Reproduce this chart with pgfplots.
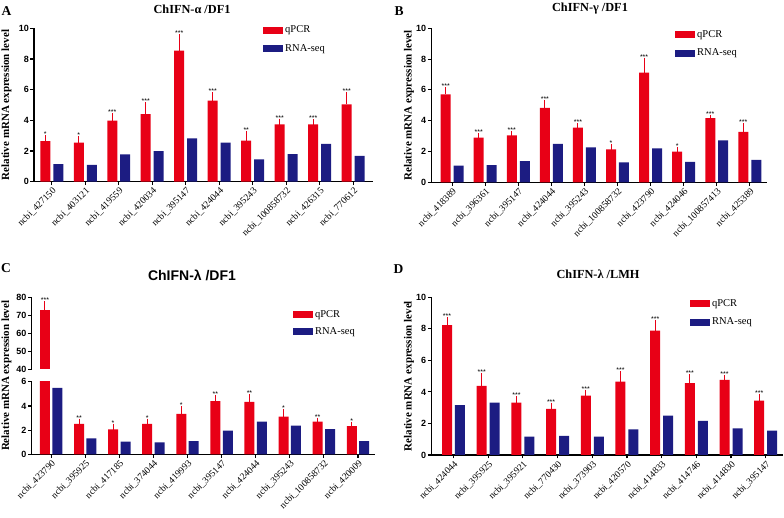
\documentclass[border=0pt]{standalone}
\usepackage{fontspec}
\setmainfont{Liberation Serif}
\newfontfamily\arial{Liberation Sans}
\usepackage{pgfplots}
\usepackage{pgfplotstable}
\pgfplotsset{compat=1.18}
\definecolor{qred}{RGB}{232,0,22}
\definecolor{qblue}{RGB}{28,28,130}

\pgfplotstableread{
x q e b s
0 2.65 0.18 1.15 *
1 2.54 0.24 1.09 *
2 3.98 0.30 1.78 ***
3 4.41 0.57 2.00 ***
4 8.54 0.87 2.83 ***
5 5.28 0.37 2.54 ***
6 2.67 0.43 1.46 **
7 3.74 0.17 1.80 ***
8 3.74 0.13 2.46 ***
9 5.04 0.61 1.68 ***
}\tabA
\pgfplotstableread{
x q e b s
0 5.71 0.29 1.08 ***
1 2.90 0.10 1.12 ***
2 3.05 0.09 1.38 ***
3 4.84 0.33 2.49 ***
4 3.55 0.11 2.27 ***
5 2.14 0.13 1.30 *
6 7.12 0.78 2.20 ***
7 1.99 0.11 1.32 *
8 4.16 0.04 2.72 ***
9 3.28 0.38 1.45 ***
}\tabB
\pgfplotstableread{
x q e b s
0 73.0 3.1 5.50 ***
1 2.51 0.19 1.32 **
2 2.07 0.22 1.05 *
3 2.51 0.19 0.99 *
4 3.34 0.38 1.08 *
5 4.41 0.22 1.96 **
6 4.33 0.39 2.70 **
7 3.11 0.37 2.37 *
8 2.70 0.08 2.09 **
9 2.34 0.11 1.08 *
}\tabC
\pgfplotstableread{
x q e b s
0 8.24 0.32 3.17 ***
1 4.38 0.62 3.32 ***
2 3.32 0.21 1.16 ***
3 2.92 0.21 1.22 ***
4 3.76 0.19 1.16 ***
5 4.65 0.47 1.63 ***
6 7.88 0.51 2.49 ***
7 4.55 0.38 2.16 ***
8 4.76 0.10 1.69 ***
9 3.44 0.26 1.54 ***
}\tabD

\pgfplotsset{
  legend image code/.code={\fill[#1] (0pt,-3.5pt) rectangle (20pt,3.5pt);},
  base/.style={
    scale only axis,
    anchor=south west,
    axis x line=bottom, axis y line=left,
    axis line style={-, line width=1.1pt, black},
    tick align=outside,
    major tick style={line width=1.1pt, black},
    major tick length=3.5pt,
    clip=true,
    /pgf/number format/assume math mode=true,
    yticklabel style={font=\arial\bfseries\fontsize{9}{9}\selectfont, inner sep=1.5pt},
    legend style={draw=none, fill=none, font=\fontsize{10.5}{10.5}\selectfont,
      legend cell align=left, row sep=6pt, inner sep=0pt, anchor=north west,
      nodes={inner sep=2pt}},
  },
  panel/.style={
    base,
    xtick={0,...,9},
    ymin=0,
    xticklabel style={font=\fontsize{9.5}{9.5}\selectfont, rotate=45, anchor=north east, inner sep=1pt},
    every axis y label/.style={rotate=90, anchor=center,
      font=\bfseries\fontsize{11}{11}\selectfont},
    ylabel={Relative mRNA expression level},
  },
  redbar/.style={ybar, bar width=10pt, bar shift=0pt, fill=qred, draw=none,
    error bars/.cd, y dir=plus, y explicit,
    error bar style={qred, line width=1pt},
    error mark options={qred, line width=1pt, mark size=3pt}},
  bluebar/.style={ybar, bar width=10pt, bar shift=0pt, fill=qblue, draw=none},
  stars/.style={draw=none, mark=none, forget plot, nodes near coords,
    point meta=explicit symbolic,
    every node near coord/.append style={font=\arial\fontsize{7}{7}\selectfont,
      anchor=south, inner sep=0pt, yshift=1.2pt}},
}

\begin{document}
\begin{tikzpicture}
\path[use as bounding box] (0pt,0pt) rectangle (784pt,518pt);

% ---------- Panel A ----------
\begin{axis}[panel, at={(34pt,336.3pt)}, width=339pt, height=153.4pt,
  xmin=-0.53, xmax=9.59, ymax=10, ytick={0,2,...,10},
  xticklabels={ncbi\_427150,ncbi\_403121,ncbi\_419559,ncbi\_420034,ncbi\_395147,ncbi\_424044,ncbi\_395243,ncbi\_100858732,ncbi\_426315,ncbi\_770612},
  ylabel style={at={(axis description cs:-0.0811,0.5)}},
  legend style={at={(axis description cs:0.6755,1.03)}}]
\addplot[redbar] table[x expr=\thisrow{x}-0.194, y=q, y error=e]{\tabA};
\addlegendentry{qPCR}
\addplot[bluebar] table[x expr=\thisrow{x}+0.194, y=b]{\tabA};
\addlegendentry{RNA-seq}
\addplot[stars] table[x expr=\thisrow{x}-0.194, y expr=\thisrow{q}+\thisrow{e}, meta=s]{\tabA};
\end{axis}

% ---------- Panel B ----------
\begin{axis}[panel, at={(431.3pt,335.7pt)}, width=335.7pt, height=154pt,
  xmin=-0.63, xmax=9.52, ymax=10, ytick={0,2,...,10},
  xticklabels={ncbi\_418389,ncbi\_396361,ncbi\_395147,ncbi\_424044,ncbi\_395243,ncbi\_100858732,ncbi\_423790,ncbi\_424046,ncbi\_100857413,ncbi\_425389},
  ylabel style={at={(axis description cs:-0.0664,0.5)}},
  legend style={at={(axis description cs:0.726,1.0)}}]
\addplot[redbar] table[x expr=\thisrow{x}-0.196, y=q, y error=e]{\tabB};
\addlegendentry{qPCR}
\addplot[bluebar] table[x expr=\thisrow{x}+0.196, y=b]{\tabB};
\addlegendentry{RNA-seq}
\addplot[stars] table[x expr=\thisrow{x}-0.196, y expr=\thisrow{q}+\thisrow{e}, meta=s]{\tabB};
\end{axis}

% ---------- Panel C (broken axis) ----------
\begin{axis}[panel, at={(31.7pt,63.7pt)}, width=343.3pt, height=72.5pt,
  xmin=-0.57, xmax=9.5, ymax=6, ytick={0,2,4,6},
  xticklabels={ncbi\_423790,ncbi\_395925,ncbi\_417185,ncbi\_374044,ncbi\_419993,ncbi\_395147,ncbi\_424044,ncbi\_395243,ncbi\_100858732,ncbi\_420009},
  ylabel style={at={(axis description cs:-0.0734,1.083)}}]
\addplot[redbar] table[x expr=\thisrow{x}-0.182, y=q, y error=e]{\tabC};
\addplot[bluebar] table[x expr=\thisrow{x}+0.182, y=b]{\tabC};
\addplot[stars, restrict x to domain=0.5:10] table[x expr=\thisrow{x}-0.182, y expr=\thisrow{q}+\thisrow{e}, meta=s]{\tabC};
\end{axis}
\begin{axis}[base, at={(31.7pt,148.7pt)}, width=343.3pt, height=72pt,
  xmin=-0.57, xmax=9.5, ymin=40, ymax=80, ytick={40,50,...,80},
  axis x line=none,
  legend style={at={(axis description cs:0.761,0.85)}, row sep=4.5pt}]
\addplot[redbar] coordinates {(-0.182,73.0) +- (0,3.1)};
\addlegendentry{qPCR}
\addlegendimage{fill=qblue, draw=none}
\addlegendentry{RNA-seq}
\addplot[stars] coordinates {(-0.182,76.1) [***]};
\end{axis}

% ---------- Panel D ----------
\begin{axis}[panel, at={(431.3pt,63pt)}, width=351.4pt, height=157.7pt,
  xmin=-0.64, xmax=9.49, ymax=10, ytick={0,2,...,10},
  xticklabels={ncbi\_424044,ncbi\_395925,ncbi\_395921,ncbi\_770430,ncbi\_373903,ncbi\_420570,ncbi\_414833,ncbi\_414746,ncbi\_414830,ncbi\_395147},
  ylabel style={at={(axis description cs:-0.0635,0.5)}},
  legend style={at={(axis description cs:0.736,1.0)}}]
\addplot[redbar] table[x expr=\thisrow{x}-0.187, y=q, y error=e]{\tabD};
\addlegendentry{qPCR}
\addplot[bluebar] table[x expr=\thisrow{x}+0.187, y=b]{\tabD};
\addlegendentry{RNA-seq}
\addplot[stars] table[x expr=\thisrow{x}-0.187, y expr=\thisrow{q}+\thisrow{e}, meta=s]{\tabD};
\end{axis}

% ---------- titles and panel letters ----------
\node[font=\bfseries\fontsize{12.3}{12.3}\selectfont] at (192pt,509pt) {ChIFN-α /DF1};
\node[font=\bfseries\fontsize{12.3}{12.3}\selectfont] at (590pt,509pt) {ChIFN-γ /DF1};
\node[font=\arial\bfseries\fontsize{14}{14}\selectfont] at (192pt,243pt) {ChIFN-λ /DF1};
\node[font=\bfseries\fontsize{12.3}{12.3}\selectfont] at (598pt,244pt) {ChIFN-λ /LMH};
\node[font=\bfseries\fontsize{13.5}{13.5}\selectfont] at (6.5pt,506.5pt) {A};
\node[font=\bfseries\fontsize{13.5}{13.5}\selectfont] at (399pt,507pt) {B};
\node[font=\bfseries\fontsize{13.5}{13.5}\selectfont] at (6pt,250pt) {C};
\node[font=\bfseries\fontsize{13.5}{13.5}\selectfont] at (398.5pt,249pt) {D};
\end{tikzpicture}
\end{document}
